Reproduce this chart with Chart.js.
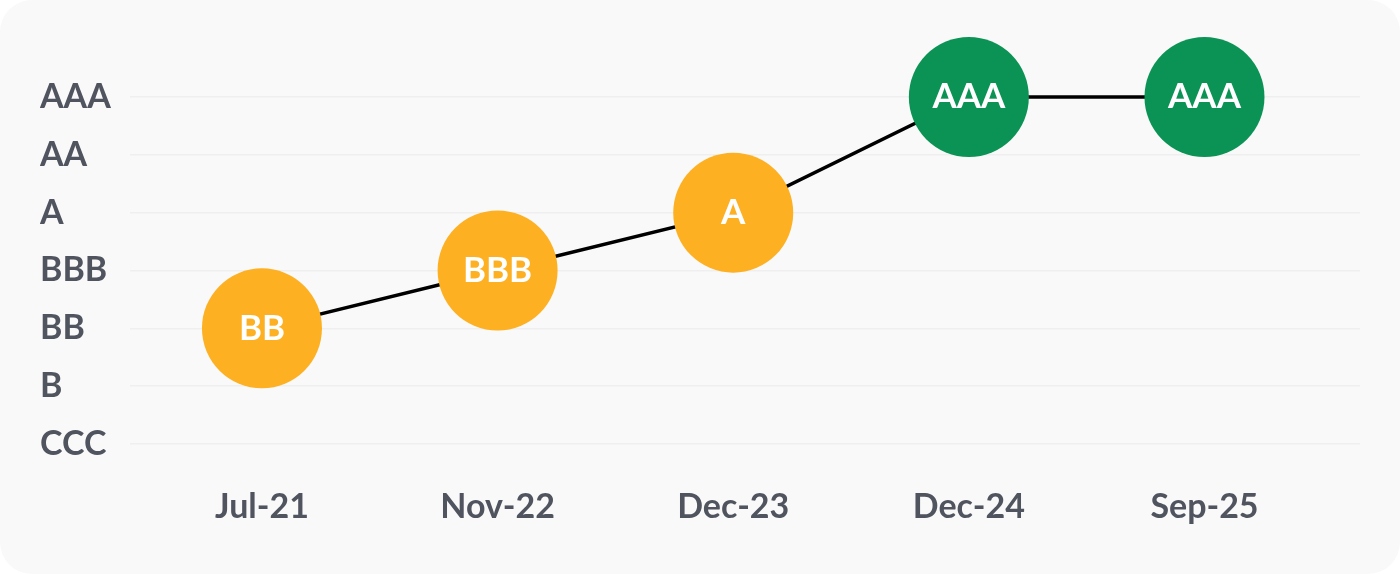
<!DOCTYPE html>
<html>
<head>
<meta charset="utf-8">
<script src="https://cdn.jsdelivr.net/npm/chart.js@4.4.0/dist/chart.umd.min.js"></script>
<style>
  html, body { margin: 0; padding: 0; background: #ffffff; }
  .card {
    width: 1400px; height: 574px;
    background: #f9f9f9;
    border-radius: 32px;
    overflow: hidden;
  }
</style>
</head>
<body>
<div class="card">
  <canvas id="ratingChart" width="1400" height="574"></canvas>
</div>
<script>
// rating scale, low to high
const ratingLabels = ["CCC", "B", "BB", "BBB", "A", "AA", "AAA"];
// dates of each rating
const dateLabels = ["Jul-21", "Nov-22", "Dec-23", "Dec-24", "Sep-25"];
// rating index at each date
const ratingValues = [2, 3, 4, 6, 6];
const pointColors = ["#fdb022", "#fdb022", "#fdb022", "#0a9354", "#0a9354"];

const fontFamily = "Lato, 'Noto Sans', sans-serif";
const textColor = "#50545f";

// writes the rating inside every circle
const bubbleLabels = {
  id: "bubbleLabels",
  afterDatasetsDraw(chart) {
    const ctx = chart.ctx;
    const meta = chart.getDatasetMeta(0);
    ctx.save();
    ctx.font = "bold 35px " + fontFamily;
    ctx.fillStyle = "#ffffff";
    ctx.textAlign = "center";
    ctx.textBaseline = "middle";
    meta.data.forEach((pt, i) => {
      ctx.fillText(ratingLabels[ratingValues[i]], pt.x, pt.y);
    });
    ctx.restore();
  },
};

const ctx = document.getElementById("ratingChart").getContext("2d");
const ratingChart = new Chart(ctx, {
  type: "line",
  data: {
    datasets: [
      {
        data: ratingValues.map((v, i) => ({ x: i, y: v })),
        borderColor: "#000000",
        borderWidth: 3.5,
        pointRadius: 60,
        pointHoverRadius: 60,
        pointBackgroundColor: pointColors,
        pointBorderWidth: 0,
        clip: false,
      },
    ],
  },
  options: {
    responsive: false,
    animation: false,
    events: [],
    layout: { autoPadding: false, padding: { top: 97, left: 40, right: 40, bottom: 0 } },
    plugins: { legend: { display: false }, tooltip: { enabled: false } },
    scales: {
      x: {
        type: "linear",
        min: -0.56,
        max: 4.66,
        afterBuildTicks(scale) {
          scale.ticks = dateLabels.map((_, i) => ({ value: i }));
        },
        afterFit(scale) { scale.height = 130; },
        grid: { display: false },
        border: { display: false },
        ticks: {
          callback: (v) => dateLabels[v],
          color: textColor,
          font: { family: fontFamily, size: 34, weight: "bold" },
          padding: 35,
          maxRotation: 0,
        },
      },
      y: {
        min: 0,
        max: 6,
        afterFit(scale) { scale.width = 90; },
        grid: { color: "#efefef", lineWidth: 1.5, drawTicks: false },
        border: { display: false },
        ticks: {
          stepSize: 1,
          callback: (v) => ratingLabels[v],
          color: textColor,
          crossAlign: "far",
          font: { family: fontFamily, size: 34, weight: "bold" },
          padding: 0,
        },
      },
    },
  },
  plugins: [bubbleLabels],
});
</script>
</body>
</html>
